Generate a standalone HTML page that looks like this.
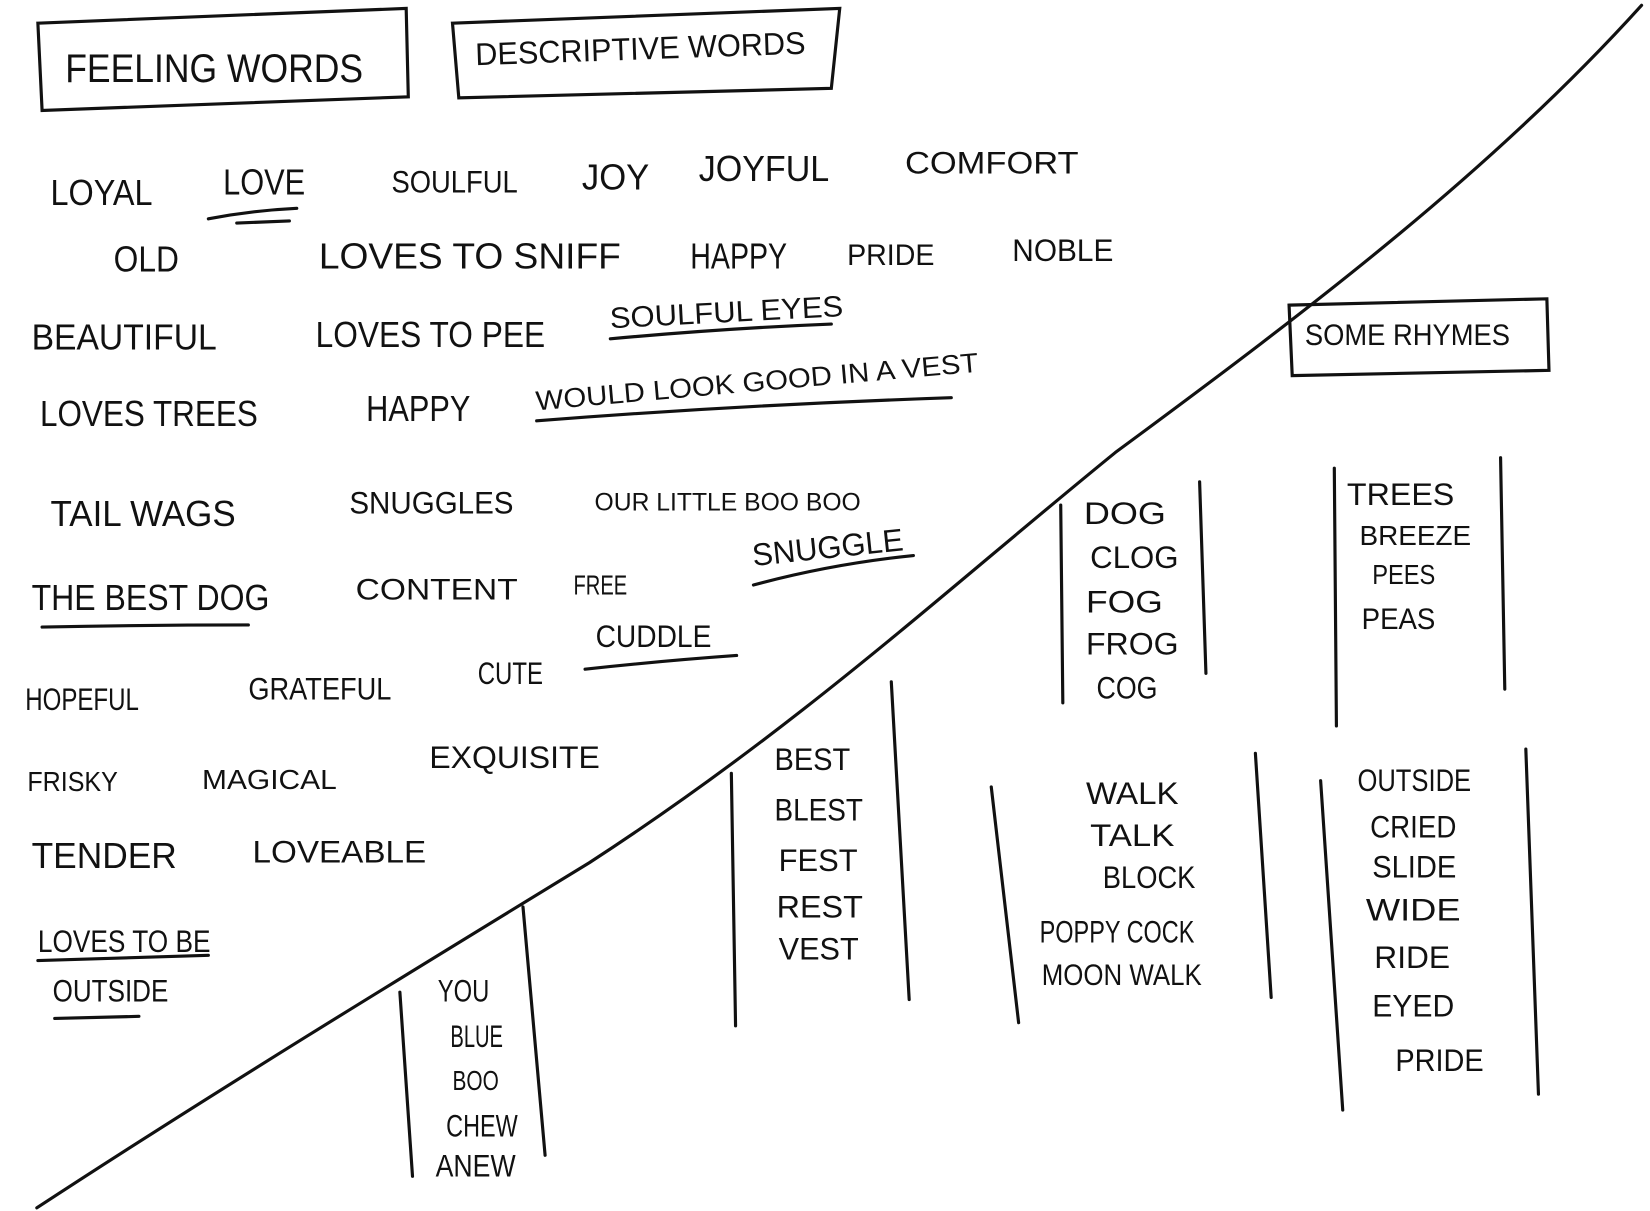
<!DOCTYPE html>
<html><head><meta charset="utf-8"><style>
html,body{margin:0;padding:0;background:#fff;}
svg{display:block;}
text{font-family:"Liberation Sans",sans-serif;fill:#111;}
</style></head><body>
<svg width="1650" height="1211" viewBox="0 0 1568 1151" preserveAspectRatio="none" xmlns="http://www.w3.org/2000/svg">
<g fill="none" stroke="#111" stroke-width="3" stroke-linecap="round">
<polygon points="36,22 386,8 388,92 40,105"/>
<polygon points="430,22 798,8 790,84 436,93"/>
<polygon points="1225,290 1470,284 1472,352 1228,357"/>
<path d="M35,1148 C200,1040 380,930 560,820 C760,690 900,560 1060,430 C1250,290 1420,160 1560,5"/>
<path d="M198,208 Q240,200 282,198"/><path d="M225,212 L275,210"/>
<path d="M580,322 Q690,312 790,308"/>
<path d="M510,400 Q700,385 904,378"/>
<path d="M40,596 Q140,594 236,594"/>
<path d="M716,556 Q790,536 868,528"/>
<path d="M556,636 Q630,628 700,623"/>
<path d="M36,913 L198,908"/>
<path d="M52,968 L132,966"/>
<path d="M1008,480 L1010,668"/><path d="M1140,458 L1146,640"/>
<path d="M1268,445 L1270,690"/><path d="M1426,435 L1430,655"/>
<path d="M380,943 L392,1118"/><path d="M497,862 L518,1098"/>
<path d="M695,735 L699,975"/><path d="M847,648 L864,950"/>
<path d="M942,748 L968,972"/><path d="M1193,716 L1208,948"/>
<path d="M1255,742 L1276,1055"/><path d="M1450,712 L1462,1040"/>
</g>
<g font-size="34" lengthAdjust="spacingAndGlyphs">
<text x="62" y="78" font-size="38" textLength="283" lengthAdjust="spacingAndGlyphs">FEELING WORDS</text>
<text x="452" y="62" font-size="30" textLength="314" lengthAdjust="spacingAndGlyphs" transform="rotate(-2 452 62)">DESCRIPTIVE WORDS</text>
<text x="1240" y="328" font-size="28" textLength="195" lengthAdjust="spacingAndGlyphs">SOME RHYMES</text>

<text x="48" y="195" textLength="97" lengthAdjust="spacingAndGlyphs">LOYAL</text>
<text x="212" y="185" textLength="78" lengthAdjust="spacingAndGlyphs">LOVE</text>
<text x="372" y="183" font-size="30" textLength="120" lengthAdjust="spacingAndGlyphs">SOULFUL</text>
<text x="553" y="180" textLength="64" lengthAdjust="spacingAndGlyphs">JOY</text>
<text x="664" y="172" textLength="124" lengthAdjust="spacingAndGlyphs">JOYFUL</text>
<text x="860" y="165" font-size="30" textLength="165" lengthAdjust="spacingAndGlyphs">COMFORT</text>

<text x="108" y="258" textLength="62" lengthAdjust="spacingAndGlyphs">OLD</text>
<text x="303" y="255" textLength="287" lengthAdjust="spacingAndGlyphs">LOVES TO SNIFF</text>
<text x="656" y="255" textLength="92" lengthAdjust="spacingAndGlyphs">HAPPY</text>
<text x="805" y="252" font-size="28" textLength="83" lengthAdjust="spacingAndGlyphs">PRIDE</text>
<text x="962" y="248" font-size="30" textLength="96" lengthAdjust="spacingAndGlyphs">NOBLE</text>

<text x="30" y="332" textLength="176" lengthAdjust="spacingAndGlyphs">BEAUTIFUL</text>
<text x="300" y="330" textLength="218" lengthAdjust="spacingAndGlyphs">LOVES TO PEE</text>
<text x="580" y="312" font-size="28" textLength="222" lengthAdjust="spacingAndGlyphs" transform="rotate(-3 580 312)">SOULFUL EYES</text>

<text x="38" y="405" textLength="207" lengthAdjust="spacingAndGlyphs">LOVES TREES</text>
<text x="348" y="400" textLength="99" lengthAdjust="spacingAndGlyphs">HAPPY</text>
<text x="510" y="390" font-size="26" textLength="422" lengthAdjust="spacingAndGlyphs" transform="rotate(-5 510 390)">WOULD LOOK GOOD IN A VEST</text>

<text x="48" y="500" textLength="176" lengthAdjust="spacingAndGlyphs">TAIL WAGS</text>
<text x="332" y="488" font-size="30" textLength="156" lengthAdjust="spacingAndGlyphs">SNUGGLES</text>
<text x="565" y="485" font-size="24" textLength="253" lengthAdjust="spacingAndGlyphs">OUR LITTLE BOO BOO</text>

<text x="30" y="580" textLength="226" lengthAdjust="spacingAndGlyphs">THE BEST DOG</text>
<text x="338" y="570" font-size="28" textLength="154" lengthAdjust="spacingAndGlyphs">CONTENT</text>
<text x="545" y="565" font-size="26" textLength="51" lengthAdjust="spacingAndGlyphs">FREE</text>
<text x="716" y="538" font-size="30" textLength="144" lengthAdjust="spacingAndGlyphs" transform="rotate(-6 716 538)">SNUGGLE</text>

<text x="24" y="675" font-size="30" textLength="108" lengthAdjust="spacingAndGlyphs">HOPEFUL</text>
<text x="236" y="665" font-size="30" textLength="136" lengthAdjust="spacingAndGlyphs">GRATEFUL</text>
<text x="454" y="650" font-size="30" textLength="62" lengthAdjust="spacingAndGlyphs">CUTE</text>
<text x="566" y="615" font-size="30" textLength="110" lengthAdjust="spacingAndGlyphs">CUDDLE</text>

<text x="26" y="752" font-size="26" textLength="86" lengthAdjust="spacingAndGlyphs">FRISKY</text>
<text x="192" y="750" font-size="26" textLength="128" lengthAdjust="spacingAndGlyphs">MAGICAL</text>
<text x="408" y="730" font-size="30" textLength="162" lengthAdjust="spacingAndGlyphs">EXQUISITE</text>

<text x="30" y="825" textLength="138" lengthAdjust="spacingAndGlyphs">TENDER</text>
<text x="240" y="820" font-size="30" textLength="165" lengthAdjust="spacingAndGlyphs">LOVEABLE</text>

<text x="36" y="905" font-size="30" textLength="164" lengthAdjust="spacingAndGlyphs">LOVES TO BE</text>
<text x="50" y="952" font-size="30" textLength="110" lengthAdjust="spacingAndGlyphs">OUTSIDE</text>

<g font-size="30">
<text x="1030" y="498" textLength="78" lengthAdjust="spacingAndGlyphs">DOG</text>
<text x="1036" y="540" textLength="84" lengthAdjust="spacingAndGlyphs">CLOG</text>
<text x="1032" y="582" textLength="73" lengthAdjust="spacingAndGlyphs">FOG</text>
<text x="1032" y="622" textLength="88" lengthAdjust="spacingAndGlyphs">FROG</text>
<text x="1042" y="664" textLength="58" lengthAdjust="spacingAndGlyphs">COG</text>

<text x="1280" y="480" textLength="102" lengthAdjust="spacingAndGlyphs">TREES</text>
<text x="1292" y="518" font-size="26" textLength="106" lengthAdjust="spacingAndGlyphs">BREEZE</text>
<text x="1304" y="555" font-size="26" textLength="60" lengthAdjust="spacingAndGlyphs">PEES</text>
<text x="1294" y="598" font-size="28" textLength="70" lengthAdjust="spacingAndGlyphs">PEAS</text>

<text x="416" y="952" textLength="49" lengthAdjust="spacingAndGlyphs">YOU</text>
<text x="428" y="995" textLength="50" lengthAdjust="spacingAndGlyphs">BLUE</text>
<text x="430" y="1036" font-size="26" textLength="44" lengthAdjust="spacingAndGlyphs">BOO</text>
<text x="424" y="1080" textLength="68" lengthAdjust="spacingAndGlyphs">CHEW</text>
<text x="414" y="1118" textLength="76" lengthAdjust="spacingAndGlyphs">ANEW</text>

<text x="736" y="732" textLength="72" lengthAdjust="spacingAndGlyphs">BEST</text>
<text x="736" y="780" textLength="84" lengthAdjust="spacingAndGlyphs">BLEST</text>
<text x="740" y="828" textLength="75" lengthAdjust="spacingAndGlyphs">FEST</text>
<text x="738" y="872" textLength="82" lengthAdjust="spacingAndGlyphs">REST</text>
<text x="740" y="912" textLength="76" lengthAdjust="spacingAndGlyphs">VEST</text>

<text x="1032" y="764" textLength="88" lengthAdjust="spacingAndGlyphs">WALK</text>
<text x="1036" y="804" textLength="80" lengthAdjust="spacingAndGlyphs">TALK</text>
<text x="1048" y="844" textLength="88" lengthAdjust="spacingAndGlyphs">BLOCK</text>
<text x="988" y="896" textLength="147" lengthAdjust="spacingAndGlyphs">POPPY COCK</text>
<text x="990" y="936" font-size="28" textLength="152" lengthAdjust="spacingAndGlyphs">MOON WALK</text>

<text x="1290" y="752" textLength="108" lengthAdjust="spacingAndGlyphs">OUTSIDE</text>
<text x="1302" y="796" textLength="82" lengthAdjust="spacingAndGlyphs">CRIED</text>
<text x="1304" y="834" textLength="80" lengthAdjust="spacingAndGlyphs">SLIDE</text>
<text x="1298" y="875" textLength="90" lengthAdjust="spacingAndGlyphs">WIDE</text>
<text x="1306" y="920" textLength="72" lengthAdjust="spacingAndGlyphs">RIDE</text>
<text x="1304" y="966" textLength="78" lengthAdjust="spacingAndGlyphs">EYED</text>
<text x="1326" y="1018" textLength="84" lengthAdjust="spacingAndGlyphs">PRIDE</text>
</g>
</g>
</svg>
</body></html>
